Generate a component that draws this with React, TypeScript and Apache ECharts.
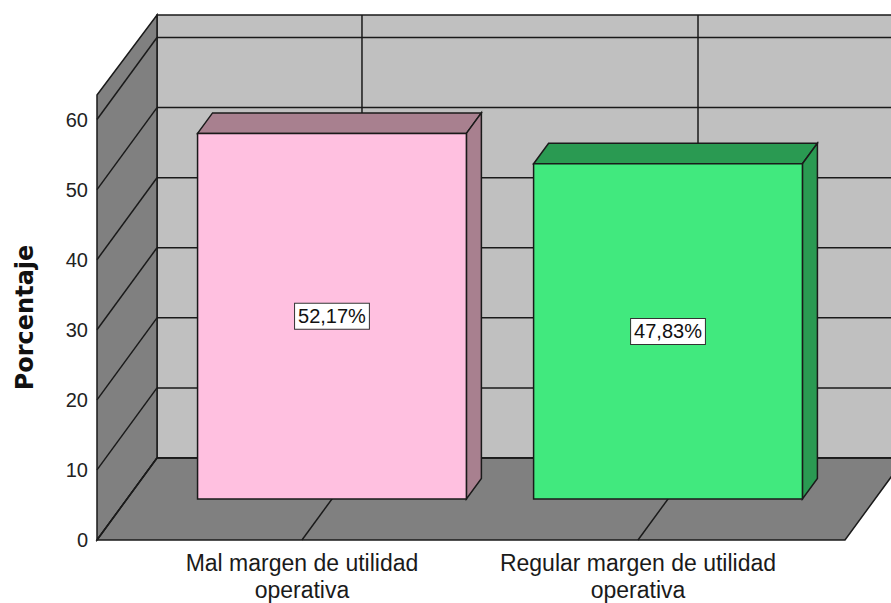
import React, { useEffect, useRef } from "react";
import * as echarts from "echarts";

// ---- data ----
const categories: string[] = [
  "Mal margen de utilidad\noperativa",
  "Regular margen de utilidad\noperativa",
];
const percentValues: number[] = [52.17, 47.83];
const percentLabels: string[] = ["52,17%", "47,83%"];
const yTicks: number[] = [0, 10, 20, 30, 40, 50, 60];

// ---- styles ----
const frontColors = ["#FFC0E0", "#41E97E"];
const sideColors = ["#A8808F", "#2A9A52"];
const LINE = "#1a1a1a";
const DEPTH_X = 60;
const DEPTH_Y = -82;

export default function App() {
  const ref = useRef<HTMLDivElement>(null);

  useEffect(() => {
    if (!ref.current) return;
    const chart = echarts.init(ref.current, undefined, { renderer: "svg" });

    const wallsRender = (params: any, api: any) => {
      const cs = params.coordSys;
      const x0 = cs.x;
      const x1 = cs.x + cs.width;
      const yT = cs.y;
      const yB = cs.y + cs.height;
      const dx = DEPTH_X;
      const dy = DEPTH_Y;
      const lineStyle = { stroke: LINE, lineWidth: 1.5, fill: null };
      const children: any[] = [];
      children.push({
        type: "polygon",
        shape: { points: [[x0 + dx, yT + dy + 2], [x1 + dx, yT + dy + 2], [x1 + dx, yB + dy], [x0 + dx, yB + dy]] },
        style: { fill: "#C0C0C0", stroke: LINE, lineWidth: 1.5 },
      });
      children.push({
        type: "polygon",
        shape: { points: [[x0, yT], [x0 + dx, yT + dy + 2], [x0 + dx, yB + dy], [x0, yB]] },
        style: { fill: "#808080", stroke: LINE, lineWidth: 1.5 },
      });
      children.push({
        type: "polygon",
        shape: { points: [[x0, yB], [x0 + dx, yB + dy], [x1 + dx, yB + dy], [x1, yB]] },
        style: { fill: "#808080", stroke: LINE, lineWidth: 1.5 },
      });
      yTicks.forEach((v) => {
        const y = api.coord([0, v])[1];
        children.push({
          type: "line",
          shape: { x1: x0 + dx, y1: y + dy, x2: x1 + dx, y2: y + dy },
          style: lineStyle,
        });
        children.push({
          type: "line",
          shape: { x1: x0, y1: y, x2: x0 + dx, y2: y + dy },
          style: lineStyle,
        });
      });
      categories.forEach((c, i) => {
        const x = api.coord([i, 0])[0];
        children.push({
          type: "line",
          shape: { x1: x + dx, y1: yT + dy + 2, x2: x + dx, y2: yB + dy },
          style: lineStyle,
        });
        children.push({
          type: "line",
          shape: { x1: x, y1: yB, x2: x + dx, y2: yB + dy },
          style: lineStyle,
        });
        children.push({
          type: "text",
          style: {
            text: c,
            x: x,
            y: yB + 9,
            align: "center",
            verticalAlign: "top",
            fill: "#1a1a1a",
            font: "23px 'Liberation Sans', Arial, sans-serif",
            lineHeight: 27,
          },
        });
      });
      return { type: "group", children };
    };

    const barsRender = (params: any, api: any) => {
      const i = params.dataIndex;
      const xc = api.value(0);
      const v = api.value(1);
      const pL = api.coord([xc - 0.4, 0]);
      const pR = api.coord([xc + 0.4, v]);
      const ox = DEPTH_X * 0.5;
      const oy = DEPTH_Y * 0.5;
      const bx = DEPTH_X * 0.25;
      const by = DEPTH_Y * 0.25;
      const fl = pL[0] + ox;
      const fr = pR[0] + ox;
      const fb = pL[1] + oy;
      const ft = pR[1] + oy;
      const edge = { stroke: LINE, lineWidth: 1.5 };
      return {
        type: "group",
        children: [
          {
            type: "polygon",
            shape: { points: [[fl, ft], [fl + bx, ft + by], [fr + bx, ft + by], [fr, ft]] },
            style: { fill: sideColors[i], ...edge },
          },
          {
            type: "polygon",
            shape: { points: [[fr, ft], [fr + bx, ft + by], [fr + bx, fb + by], [fr, fb]] },
            style: { fill: sideColors[i], ...edge },
          },
          {
            type: "polygon",
            shape: { points: [[fl, ft], [fr, ft], [fr, fb], [fl, fb]] },
            style: { fill: frontColors[i], ...edge },
          },
          {
            type: "text",
            style: {
              text: percentLabels[i],
              x: (fl + fr) / 2,
              y: (ft + fb) / 2,
              align: "center",
              verticalAlign: "middle",
              fill: "#111",
              font: "20px 'Liberation Sans', Arial, sans-serif",
              backgroundColor: "#ffffff",
              borderColor: "#333",
              borderWidth: 1,
              padding: [3, 3, 2, 3],
            },
          },
        ],
      };
    };

    chart.setOption({
      animation: false,
      grid: { left: 97, right: 46, top: 95, bottom: 63 },
      xAxis: { type: "value", min: -0.61, max: 1.616, show: false },
      yAxis: {
        type: "value",
        min: 0,
        max: 63.5,
        interval: 10,
        name: "Porcentaje",
        nameLocation: "middle",
        nameRotate: 90,
        nameGap: 60,
        nameTextStyle: {
          fontFamily: "'DejaVu Sans', sans-serif",
          fontWeight: "bold",
          fontSize: 24,
          color: "#111",
        },
        axisLine: { show: false },
        axisTick: { show: false },
        splitLine: { show: false },
        axisLabel: {
          showMaxLabel: false,
          margin: 9,
          fontFamily: "'Liberation Sans', Arial, sans-serif",
          fontSize: 20,
          color: "#222",
          formatter: (val: number) => (val % 10 === 0 ? String(val) : ""),
        },
      },
      series: [
        {
          type: "custom",
          renderItem: wallsRender,
          data: [[0, 0]],
          z: 1,
          silent: true,
        },
        {
          type: "custom",
          renderItem: barsRender,
          data: percentValues.map((v, i) => [i, v]),
          z: 2,
        },
      ],
    });

    return () => chart.dispose();
  }, []);

  return (
    <div
      ref={ref}
      style={{ position: "absolute", left: 0, top: 0, width: 891, height: 603 }}
    />
  );
}
